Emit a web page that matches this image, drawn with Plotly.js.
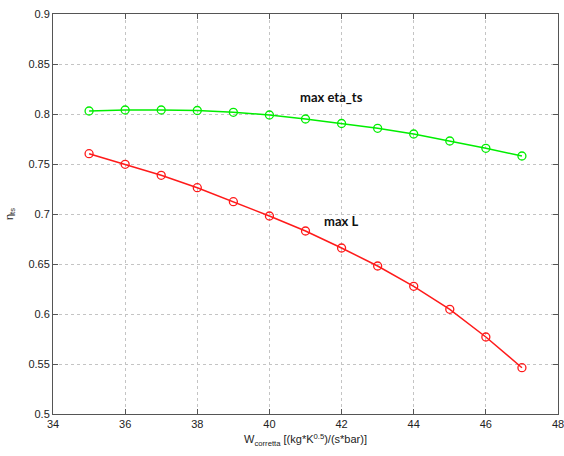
<!DOCTYPE html>
<html>
<head>
<meta charset="utf-8">
<script src="https://cdn.plot.ly/plotly-3.0.1.min.js"></script>
<style>html,body{margin:0;padding:0;background:#fff;}#chart{width:564px;height:456px;}</style>
</head>
<body>
<div id="chart"></div>
<script>
const wCorretta = [35, 36, 37, 38, 39, 40, 41, 42, 43, 44, 45, 46, 47];
const etaMaxEta = [0.803, 0.804, 0.804, 0.8035, 0.8017, 0.799, 0.795, 0.7905, 0.7857, 0.780, 0.773, 0.7657, 0.758];
const etaMaxL = [0.7603, 0.7497, 0.7387, 0.7263, 0.7123, 0.698, 0.683, 0.666, 0.648, 0.6277, 0.6047, 0.577, 0.5463];
const labels = ["max eta_ts", "max L"];
const labelX = [40.78, 41.47];
const labelY = [0.8173, 0.6933];
const xTicks = [34, 36, 38, 40, 42, 44, 46, 48];
const yTicks = [0.5, 0.55, 0.6, 0.65, 0.7, 0.75, 0.8, 0.85, 0.9];

const mk = (y, color) => ({
  x: wCorretta, y: y, type: 'scatter', mode: 'lines+markers',
  line: {color: color, width: 1.5},
  marker: {symbol: 'circle-open', size: 8, color: color, line: {width: 1.3, color: color}},
  showlegend: false, hoverinfo: 'skip'
});

const axisCommon = {
  showline: true, linecolor: '#555', linewidth: 1, mirror: 'ticks',
  ticks: 'inside', ticklen: 5, tickcolor: '#555',
  showgrid: true, gridcolor: '#c4c4c4', griddash: 'dot', gridwidth: 1,
  zeroline: false, ticklabeloverflow: 'allow',
  tickfont: {family: 'Liberation Sans, Arial, sans-serif', size: 11, color: '#222'}
};

const layout = {
  width: 564, height: 456,
  margin: {l: 53, r: 6, t: 14, b: 42},
  paper_bgcolor: '#fff', plot_bgcolor: '#fff',
  xaxis: Object.assign({}, axisCommon, {
    range: [34, 48], tickvals: xTicks, ticktext: xTicks.map(String),
    title: {text: 'W<sub>corretta</sub> [(kg*K<sup>0.5</sup>)/(s*bar)]', standoff: 6,
      font: {family: 'Liberation Sans, Arial, sans-serif', size: 11, color: '#222'}}
  }),
  yaxis: Object.assign({}, axisCommon, {
    range: [0.5, 0.9], tickvals: yTicks, ticktext: yTicks.map(v => String(v)),
    title: {text: 'η<sub>ts</sub>', standoff: 12,
      font: {family: 'Liberation Sans, Arial, sans-serif', size: 11, color: '#222'}}
  }),
  annotations: labels.map((t, i) => ({
    x: labelX[i], y: labelY[i], xref: 'x', yref: 'y', text: '<b>' + t + '</b>',
    showarrow: false, xanchor: 'left', yanchor: 'middle',
    font: {family: 'Lato, Open Sans, sans-serif', size: 13, color: '#111'}
  }))
};

Plotly.newPlot('chart', [mk(etaMaxEta, '#00ee00'), mk(etaMaxL, '#ff1a1a')], layout, {displayModeBar: false, staticPlot: true});
</script>
</body>
</html>
